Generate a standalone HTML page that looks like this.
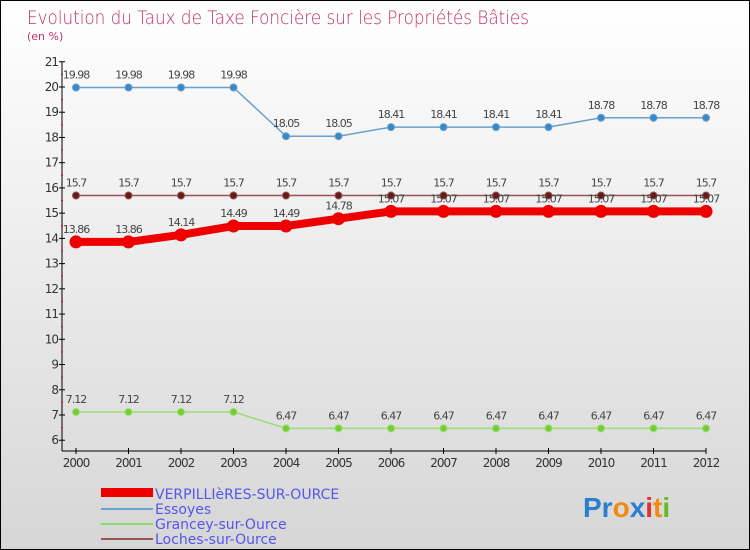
<!DOCTYPE html>
<html><head><meta charset="utf-8"><style>
body{margin:0}
#c{width:750px;height:550px;position:relative;box-sizing:border-box;border:1px solid #000;background:linear-gradient(#ffffff,#d6d6d6);font-family:"DejaVu Sans","Liberation Sans",sans-serif;overflow:hidden}
</style></head><body>
<div id="c">
<svg width="748" height="548" style="position:absolute;left:0;top:0">
<text x="26" y="23" font-size="19" fill="#c0306a" font-weight="300" textLength="502" lengthAdjust="spacingAndGlyphs">Evolution du Taux de Taxe Foncière sur les Propriétés Bâties</text>
<text x="26" y="39" font-size="11" fill="#c0306a">(en %)</text>
<g id="axes"></g><g id="series"></g>
<g font-size="14" fill="#5555ee">
<rect x="100" y="487" width="52" height="9" fill="#e00"/>
<text x="154" y="498">VERPILLIèRES-SUR-OURCE</text>
<rect x="100" y="507" width="52" height="2" fill="#6aa0cc"/>
<text x="154" y="513">Essoyes</text>
<rect x="100" y="522" width="52" height="2" fill="#88dd66"/>
<text x="154" y="528">Grancey-sur-Ource</text>
<rect x="100" y="537" width="52" height="2" fill="#995555"/>
<text x="154" y="543">Loches-sur-Ource</text>
</g>
<g font-size="28" font-weight="bold" font-family="Liberation Sans,sans-serif">
<text x="582" y="516"><tspan fill="#2a7fd0">Pr</tspan><tspan fill="#f08a10">o</tspan><tspan fill="#2a7fd0">x</tspan><tspan fill="#e03030">i</tspan><tspan fill="#f08a10">t</tspan><tspan fill="#66bb22">i</tspan></text>
</g>
</svg>
</div>
<script>
const years=[2000,2001,2002,2003,2004,2005,2006,2007,2008,2009,2010,2011,2012];
const verpillieres=[13.86,13.86,14.14,14.49,14.49,14.78,15.07,15.07,15.07,15.07,15.07,15.07,15.07];
const essoyes=[19.98,19.98,19.98,19.98,18.05,18.05,18.41,18.41,18.41,18.41,18.78,18.78,18.78];
const grancey=[7.12,7.12,7.12,7.12,6.47,6.47,6.47,6.47,6.47,6.47,6.47,6.47,6.47];
const loches=[15.7,15.7,15.7,15.7,15.7,15.7,15.7,15.7,15.7,15.7,15.7,15.7,15.7];
const yTicks=[6,7,8,9,10,11,12,13,14,15,16,17,18,19,20,21];
const NS='http://www.w3.org/2000/svg';
const xs=i=>75+i*52.5;
const ys=v=>86+(20-v)*25.23;
function mk(t,a,p){const e=document.createElementNS(NS,t);for(const k in a)e.setAttribute(k,a[k]);p.appendChild(e);return e;}
const ax=document.getElementById('axes');
let l=mk('line',{x1:61,y1:ys(21),x2:61,y2:450,stroke:'#000'},ax);


l=mk('line',{x1:61,y1:450,x2:705,y2:450,stroke:'#000'},ax);


yTicks.forEach(v=>{
 mk('line',{x1:58,x2:64,y1:ys(v),y2:ys(v),stroke:'#000'},ax);
 if(v<21)mk('line',{x1:60,x2:62,y1:ys(v+0.5),y2:ys(v+0.5),stroke:'#e00'},ax);
 const t=mk('text',{x:57,y:ys(v)+4,'font-size':12,'text-anchor':'end',fill:'#333','letter-spacing':'-1'},ax);
 t.textContent=v;
 
 
});
years.forEach((y,i)=>{
 mk('line',{x1:xs(i),x2:xs(i),y1:447,y2:453,stroke:'#000'},ax);
 const t=mk('text',{x:xs(i),y:466,'font-size':12,'text-anchor':'middle',fill:'#333','letter-spacing':'-1'},ax);
 t.textContent=y;
 
 
});
const sg=document.getElementById('series');
function series(name,vals,color,w,r,dot){
 const g=mk('g',{},sg);
 
 
 mk('polyline',{points:vals.map((v,i)=>xs(i)+','+ys(v)).join(' '),fill:'none',stroke:color,'stroke-width':w,'stroke-linejoin':'round'},g);
 vals.forEach((v,i)=>{
  const c=mk('circle',{cx:xs(i),cy:ys(v),r:r,fill:dot,stroke:color,'stroke-width':1},g);
  
  
  const t=mk('text',{x:xs(i),y:ys(v)-9,'font-size':11,'text-anchor':'middle',fill:'#444','letter-spacing':'-1'},g);
  t.textContent=v;
  
  
 });
}
series('essoyes',essoyes,'#6aa0cc',1.5,3.5,'#3a88c8');
series('grancey',grancey,'#99dd77',1.5,3.5,'#77cc33');
series('loches',loches,'#995555',1.5,3.5,'#661a1a');
series('verpillieres',verpillieres,'#ee0000',8,6,'#ee0000');
</script>
</body></html>
